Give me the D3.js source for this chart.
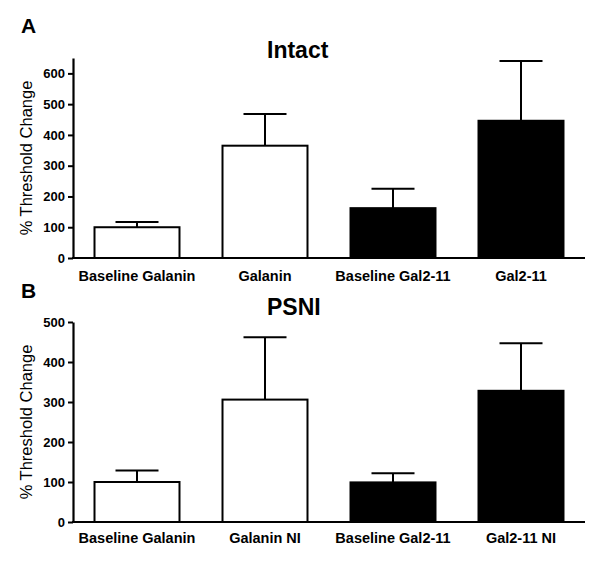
<!DOCTYPE html>
<html>
<head>
<meta charset="utf-8">
<script src="https://cdn.jsdelivr.net/npm/d3@7"></script>
<style>
  html, body { margin: 0; padding: 0; background: #fff; }
  svg { display: block; font-family: Arial, "Liberation Sans", sans-serif; }
</style>
</head>
<body>
<svg id="chart" width="600" height="563"></svg>
<script>
// ---- Data ----
const categoriesA = ["Baseline Galanin", "Galanin", "Baseline Gal2-11", "Gal2-11"];
const meansA = [100, 365, 162, 446];
const errorsA = [17, 103, 63, 194];
const ticksA = [0, 100, 200, 300, 400, 500, 600];

const categoriesB = ["Baseline Galanin", "Galanin NI", "Baseline Gal2-11", "Gal2-11 NI"];
const meansB = [100, 306, 99, 328];
const errorsB = [29, 156, 23, 119];
const ticksB = [0, 100, 200, 300, 400, 500];

const fillsAll = ["#ffffff", "#ffffff", "#000000", "#000000"];
const panelLetters = ["A", "B"];
const panelTitles = ["Intact", "PSNI"];
const yTitle = "% Threshold Change";

const svg = d3.select("#chart");

function drawPanel(cfg) {
  const x = d3.scaleBand().domain(cfg.categories).range([73, 585])
    .paddingInner(0.336).paddingOuter(0.168);
  const y = d3.scaleLinear().domain([0, cfg.yMax]).range([cfg.y0, cfg.yTop]);
  const g = svg.append("g");

  // panel letter
  g.append("text").attr("x", 21).attr("y", cfg.letterY)
    .attr("font-size", 21).attr("font-weight", "bold").text(cfg.letter);
  // title
  g.append("text").attr("x", 267).attr("y", cfg.titleY)
    .attr("font-size", 23).attr("font-weight", "bold").text(cfg.title);

  // y axis
  const ya = g.append("g").attr("transform", "translate(73,0)")
    .call(d3.axisLeft(y).tickValues(cfg.ticks).tickSize(5).tickSizeOuter(0).tickPadding(3));
  ya.select(".domain").attr("stroke", "#000").attr("stroke-width", 2.2);
  ya.selectAll(".tick line").attr("stroke", "#000").attr("stroke-width", 2);
  ya.selectAll(".tick text").attr("font-size", 13).attr("font-weight", "bold")
    .attr("font-family", "Arial, 'Liberation Sans', sans-serif").attr("fill", "#000");

  // y title
  g.append("text")
    .attr("transform", `translate(32,${(cfg.y0 + cfg.yTop) / 2}) rotate(-90)`)
    .attr("text-anchor", "middle").attr("font-size", 16.5).text(yTitle);

  // error bars (behind bars)
  const data = cfg.categories.map((c, i) => ({ c, m: cfg.means[i], e: cfg.errors[i], f: fillsAll[i] }));
  const cap = 43;
  data.forEach(d => {
    const cx = x(d.c) + x.bandwidth() / 2;
    g.append("line").attr("x1", cx).attr("x2", cx)
      .attr("y1", y(d.m)).attr("y2", y(d.m + d.e))
      .attr("stroke", "#000").attr("stroke-width", 2);
    g.append("line").attr("x1", cx - cap / 2).attr("x2", cx + cap / 2)
      .attr("y1", y(d.m + d.e)).attr("y2", y(d.m + d.e))
      .attr("stroke", "#000").attr("stroke-width", 2);
  });

  // bars
  g.selectAll("rect.bar").data(data).enter().append("rect")
    .attr("class", "bar")
    .attr("x", d => x(d.c)).attr("width", x.bandwidth())
    .attr("y", d => y(d.m)).attr("height", d => y(0) - y(d.m))
    .attr("fill", d => d.f).attr("stroke", "#000").attr("stroke-width", 2);

  // x axis line
  g.append("line").attr("x1", 72).attr("x2", 585)
    .attr("y1", y(0)).attr("y2", y(0))
    .attr("stroke", "#000").attr("stroke-width", 2.2);

  // x labels
  g.selectAll("text.xl").data(cfg.categories).enter().append("text")
    .attr("class", "xl")
    .attr("x", d => x(d) + x.bandwidth() / 2)
    .attr("y", cfg.labelY)
    .attr("text-anchor", "middle").attr("font-size", 14.5).attr("font-weight", "bold")
    .text(d => d);
}

drawPanel({
  categories: categoriesA, means: meansA, errors: errorsA, ticks: ticksA,
  yMax: 650, y0: 258, yTop: 58, letter: panelLetters[0], letterY: 33,
  title: panelTitles[0], titleY: 58, labelY: 281
});
drawPanel({
  categories: categoriesB, means: meansB, errors: errorsB, ticks: ticksB,
  yMax: 500, y0: 522, yTop: 322, letter: panelLetters[1], letterY: 298,
  title: panelTitles[1], titleY: 315, labelY: 543
});
</script>
</body>
</html>
